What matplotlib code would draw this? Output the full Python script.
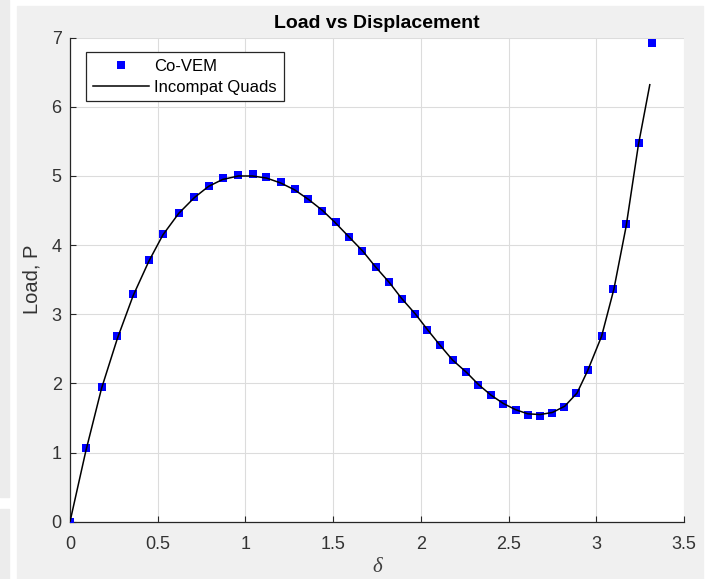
import matplotlib.pyplot as plt
from matplotlib.patches import Rectangle

plt.rcParams['font.family'] = ['Liberation Sans', 'DejaVu Sans']

# Co-VEM points
vem_x = [0.0, 0.091, 0.184, 0.268, 0.361, 0.45, 0.532, 0.623, 0.706, 0.792,
         0.874, 0.957, 1.041, 1.12, 1.202, 1.28, 1.358, 1.436, 1.514, 1.59,
         1.666, 1.742, 1.818, 1.89, 1.966, 2.036, 2.11, 2.184, 2.256, 2.326,
         2.397, 2.469, 2.54, 2.61, 2.678, 2.746, 2.817, 2.885, 2.954, 3.03,
         3.096, 3.168, 3.244, 3.32]
vem_y = [0.0, 1.06, 1.95, 2.68, 3.29, 3.79, 4.16, 4.47, 4.70, 4.86,
         4.97, 5.02, 5.03, 4.99, 4.92, 4.81, 4.67, 4.50, 4.33, 4.12,
         3.92, 3.69, 3.46, 3.22, 3.00, 2.77, 2.55, 2.34, 2.16, 1.98,
         1.83, 1.70, 1.62, 1.54, 1.53, 1.57, 1.66, 1.86, 2.19, 2.68,
         3.37, 4.30, 5.48, 6.92]

# Incompatible quads reference curve
quad_x = [0.0, 0.09, 0.18, 0.27, 0.36, 0.45, 0.53, 0.62, 0.71, 0.79, 0.87,
          0.96, 1.04, 1.12, 1.2, 1.28, 1.36, 1.44, 1.51, 1.59, 1.67, 1.74,
          1.82, 1.89, 1.97, 2.04, 2.11, 2.18, 2.26, 2.33, 2.4, 2.47, 2.54,
          2.61, 2.68, 2.75, 2.82, 2.89, 2.95, 3.03, 3.1, 3.17, 3.24, 3.305]
quad_y = [0.0, 1.02, 1.93, 2.65, 3.27, 3.77, 4.15, 4.46, 4.69, 4.85, 4.95,
          5.0, 5.0, 4.97, 4.9, 4.8, 4.66, 4.5, 4.33, 4.12, 3.91, 3.69,
          3.46, 3.23, 3.0, 2.77, 2.55, 2.34, 2.16, 1.98, 1.83, 1.71, 1.62,
          1.56, 1.55, 1.58, 1.67, 1.86, 2.18, 2.68, 3.36, 4.27, 5.45, 6.32]

xticks = [0, 0.5, 1, 1.5, 2, 2.5, 3, 3.5]
xtick_labels = ['0', '0.5', '1', '1.5', '2', '2.5', '3', '3.5']
yticks = [0, 1, 2, 3, 4, 5, 6, 7]

W, H = 708, 579
fig = plt.figure(figsize=(W / 100, H / 100), dpi=100)
fig.patch.set_facecolor('white')

# window background panels
fig.add_artist(Rectangle((17 / W, 0), (703 - 17) / W, 1 - 6 / H,
                         transform=fig.transFigure, color='#f0f0f0', zorder=0))
fig.add_artist(Rectangle((0, 82 / H), 9 / W, 1 - 82 / H,
                         transform=fig.transFigure, color='#ececec', zorder=0))
fig.add_artist(Rectangle((0, 0), 9 / W, 70 / H,
                         transform=fig.transFigure, color='#ececec', zorder=0))

ax = fig.add_axes([70 / W, 1 - 521.7 / H, 614 / W, (521.7 - 37.7) / H])
ax.set_facecolor('white')

ax.plot(vem_x, vem_y, 's', color='#0000ff', markersize=6.3,
        markeredgewidth=0, label='Co-VEM', zorder=3)
ax.plot(quad_x, quad_y, '-', color='black', linewidth=1.1,
        label='Incompat Quads', zorder=4)

ax.set_xlim(0, 3.5)
ax.set_ylim(0, 7)
ax.set_xticks(xticks)
ax.set_xticklabels(xtick_labels)
ax.set_yticks(yticks)
ax.grid(True, color='#dcdcdc', linewidth=0.8)
ax.set_axisbelow(True)

for s in ['top', 'right']:
    ax.spines[s].set_visible(False)
for s in ['left', 'bottom']:
    ax.spines[s].set_color('#262626')
    ax.spines[s].set_linewidth(0.9)
ax.tick_params(direction='in', length=4, colors='#262626',
               labelsize=13, labelcolor='#333333')
ax.tick_params(axis='x', pad=10)
ax.tick_params(axis='y', pad=6)

ax.set_title('Load vs Displacement', fontsize=14, fontweight='bold', pad=7)
ax.set_ylabel('Load, P', fontsize=14.5, color='#333333', labelpad=7)
ax.set_xlabel('δ', fontsize=15, color='#404040', labelpad=4,
              family='Liberation Serif', style='italic')

leg = ax.legend(loc='upper left', bbox_to_anchor=(0.026, 0.970),
                borderaxespad=0, fontsize=12, fancybox=False, framealpha=1,
                edgecolor='#262626', borderpad=0.4, handlelength=3.4,
                handletextpad=0.3, labelspacing=0.35)
leg.get_frame().set_linewidth(0.9)

fig.savefig('out.png', dpi=100, facecolor=fig.get_facecolor())
